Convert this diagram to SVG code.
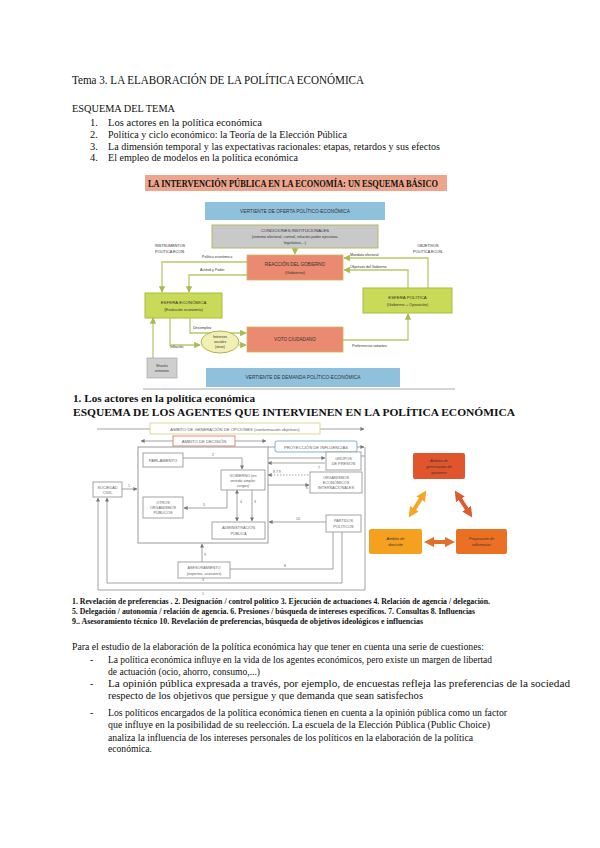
<svg xmlns="http://www.w3.org/2000/svg" width="600" height="848" viewBox="0 0 600 848">
<style>
.b{font-family:"Liberation Serif","Times New Roman",serif;fill:#111}
.bb{font-family:"Liberation Serif","Times New Roman",serif;fill:#111;font-weight:bold}
.f{font-family:"Liberation Sans",Arial,sans-serif;fill:#333}
.f2{font-family:"Liberation Sans",Arial,sans-serif;fill:#666}
.gl{fill:none;stroke:#b9c96a;stroke-width:1.3}
.kl{fill:none;stroke:#8a8a8a;stroke-width:0.8}
.kb{fill:#fff;stroke:#9a9a9a;stroke-width:0.9}
.ol{fill:none;stroke-width:4}
</style>
<defs>
<marker id="ag" viewBox="0 0 10 10" refX="9" refY="5" markerWidth="5" markerHeight="5" orient="auto-start-reverse"><path d="M0,0L10,5L0,10z" fill="#a8bb50"/></marker>
<marker id="ak" viewBox="0 0 10 10" refX="9" refY="5" markerWidth="5" markerHeight="5" orient="auto-start-reverse"><path d="M0,0L10,5L0,10z" fill="#777"/></marker>
<marker id="ay" viewBox="0 0 10 10" refX="6" refY="5" markerWidth="2.6" markerHeight="2.6" orient="auto-start-reverse"><path d="M0,0L10,5L0,10z" fill="#f5a623"/></marker>
<marker id="ar" viewBox="0 0 10 10" refX="6" refY="5" markerWidth="2.6" markerHeight="2.6" orient="auto-start-reverse"><path d="M0,0L10,5L0,10z" fill="#e05a30"/></marker>
<marker id="ao" viewBox="0 0 10 10" refX="6" refY="5" markerWidth="2.6" markerHeight="2.6" orient="auto-start-reverse"><path d="M0,0L10,5L0,10z" fill="#e2702c"/></marker>
</defs>
<rect width="600" height="848" fill="#fff"/>

<!-- Header -->
<g id="header">
<text class="b" x="72" y="84" font-size="12.5" textLength="292" lengthAdjust="spacingAndGlyphs">Tema 3. LA ELABORACIÓN DE LA POLÍTICA ECONÓMICA</text>
<text class="b" x="72" y="112" font-size="11" textLength="103" lengthAdjust="spacingAndGlyphs">ESQUEMA DEL  TEMA</text>
<text class="b" x="90" y="126" font-size="10.5">1.</text>
<text class="b" x="108" y="126" font-size="10.5" textLength="154" lengthAdjust="spacingAndGlyphs">Los actores en la política económica</text>
<text class="b" x="90" y="138" font-size="10.5">2.</text>
<text class="b" x="108" y="138" font-size="10.5" textLength="239" lengthAdjust="spacingAndGlyphs">Política y ciclo económico: la Teoría de la Elección Pública</text>
<text class="b" x="90" y="150" font-size="10.5">3.</text>
<text class="b" x="108" y="150" font-size="10.5" textLength="332" lengthAdjust="spacingAndGlyphs">La dimensión temporal y las expectativas racionales: etapas, retardos y sus efectos</text>
<text class="b" x="90" y="161" font-size="10.5">4.</text>
<text class="b" x="108" y="161" font-size="10.5" textLength="190" lengthAdjust="spacingAndGlyphs">El empleo de modelos en la política económica</text>
</g>

<!-- Figure 1 -->
<g id="fig1-title">
<rect x="145" y="175" width="302" height="16" fill="#eea58e"/>
<text class="bb" x="148" y="187" font-size="9.5" fill="#3a2a20" textLength="290" lengthAdjust="spacingAndGlyphs">LA INTERVENCIÓN PÚBLICA EN LA ECONOMÍA: UN ESQUEMA BÁSICO</text>
</g>
<g id="connectors-fig1">
<path class="gl" d="M295,248V254" marker-end="url(#ag)"/>
<path class="gl" d="M247,262H162V292" marker-end="url(#ag)"/>
<path class="gl" d="M247,275H189V292" marker-end="url(#ag)"/>
<path class="gl" d="M428,288V258H344" marker-end="url(#ag)"/>
<path class="gl" d="M408,288V270H344" marker-end="url(#ag)"/>
<path class="gl" d="M343,340H408V314" marker-end="url(#ag)"/>
<path class="gl" d="M190,318V333H246" marker-end="url(#ag)"/>
<path class="gl" d="M170,318V345H200" marker-end="url(#ag)"/>
<path class="gl" d="M239,345H246" marker-end="url(#ag)"/>
<path class="gl" d="M153,358V318" marker-end="url(#ag)"/>
<line x1="143" y1="389" x2="455" y2="389" stroke="#aaa" stroke-width="1"/>
</g>
<g id="oferta">
<rect x="205" y="202" width="180" height="18" fill="#8fc1dc"/>
<text class="f" x="295" y="213" font-size="4.8" text-anchor="middle">VERTIENTE DE OFERTA POLÍTICO-ECONÓMICA</text>
</g>
<g id="condiciones">
<rect x="212" y="225" width="166" height="23" fill="#c9c9c9" stroke="#b5b868" stroke-width="1"/>
<text class="f" x="295" y="232" font-size="4.2" text-anchor="middle">CONDICIONES INSTITUCIONALES</text>
<text class="f" x="295" y="238" font-size="3.8" text-anchor="middle">(sistema electoral, control, relación poder ejecutivo-</text>
<text class="f" x="295" y="244" font-size="3.8" text-anchor="middle">legislativo,...)</text>
</g>
<g id="instrumentos">
<text class="f" x="170" y="247" font-size="3.8" text-anchor="middle">INSTRUMENTOS</text>
<text class="f" x="170" y="253" font-size="3.8" text-anchor="middle">POLÍTICA ECON.</text>
</g>
<g id="objetivos">
<text class="f" x="428" y="247" font-size="3.8" text-anchor="middle">OBJETIVOS</text>
<text class="f" x="428" y="253" font-size="3.8" text-anchor="middle">POLÍTICA ECON.</text>
</g>
<g id="labels-fig1">
<text class="f" x="202" y="258" font-size="3.6">Política económica</text>
<text class="f" x="200" y="271" font-size="3.6">Actitud y Poder</text>
<text class="f" x="350" y="256" font-size="3.6">Mandato electoral</text>
<text class="f" x="350" y="268" font-size="3.6">Objetivos del Gobierno</text>
<text class="f" x="193" y="329" font-size="3.6">Desempleo</text>
<text class="f" x="170" y="348" font-size="3.6">Inflación</text>
<text class="f" x="352" y="347" font-size="3.6">Preferencias votantes</text>
</g>
<g id="reaccion">
<rect x="247" y="255" width="96" height="25" fill="#ea8a70" stroke="#d6b25a" stroke-width="0.8"/>
<text class="f" x="295" y="266" font-size="4.6" text-anchor="middle">REACCIÓN DEL GOBIERNO</text>
<text class="f" x="295" y="274" font-size="4.2" text-anchor="middle">(Gobierno)</text>
</g>
<g id="esfera-economica">
<rect x="145" y="293" width="77" height="25" fill="#c9da58" stroke="#a9bc3c" stroke-width="1"/>
<text class="f" x="183.5" y="304" font-size="4.4" text-anchor="middle">ESFERA ECONÓMICA</text>
<text class="f" x="183.5" y="311" font-size="4" text-anchor="middle">(Evolución economía)</text>
</g>
<g id="esfera-politica">
<rect x="363" y="288" width="89" height="25" fill="#c9da58" stroke="#a9bc3c" stroke-width="1"/>
<text class="f" x="407.5" y="299" font-size="4.4" text-anchor="middle">ESFERA POLÍTICA</text>
<text class="f" x="407.5" y="306" font-size="4" text-anchor="middle">(Gobierno + Oposición)</text>
</g>
<g id="intereses">
<ellipse cx="220" cy="342" rx="19" ry="11" fill="#f1efb4" stroke="#a9a848" stroke-width="0.9"/>
<text class="f" x="220" y="338" font-size="3.4" text-anchor="middle">Intereses</text>
<text class="f" x="220" y="343" font-size="3.4" text-anchor="middle">sociales</text>
<text class="f" x="220" y="348" font-size="3.4" text-anchor="middle">(otros)</text>
</g>
<g id="voto">
<rect x="247" y="327" width="96" height="25" fill="#ea8a70" stroke="#d6b25a" stroke-width="0.8"/>
<text class="f" x="295" y="341" font-size="4.6" text-anchor="middle">VOTO CIUDADANO</text>
</g>
<g id="shocks">
<rect x="147" y="358" width="30" height="20" fill="#cfcfcf" stroke="#9a9a9a" stroke-width="0.6"/>
<text class="f" x="162" y="367" font-size="3.6" text-anchor="middle">Shocks</text>
<text class="f" x="162" y="372" font-size="3.6" text-anchor="middle">externos</text>
</g>
<g id="demanda">
<rect x="206" y="368" width="194" height="19" fill="#8fc1dc"/>
<text class="f" x="303" y="379" font-size="4.8" text-anchor="middle">VERTIENTE DE DEMANDA POLÍTICO-ECONÓMICA</text>
</g>

<!-- Section 1 headings -->
<g id="section1">
<text class="bb" x="73" y="402" font-size="11" textLength="182" lengthAdjust="spacingAndGlyphs">1. Los actores en la política económica</text>
<text class="bb" x="73" y="416" font-size="11" textLength="442" lengthAdjust="spacingAndGlyphs">ESQUEMA DE LOS AGENTES QUE INTERVIENEN EN LA POLÍTICA ECONÓMICA</text>
</g>

<!-- Figure 2 -->
<g id="connectors-fig2">
<path class="kl" d="M97,429H364" marker-end="url(#ak)"/>
<path class="kl" d="M141,441H266" marker-start="url(#ak)" marker-end="url(#ak)"/>
<path class="kl" d="M268,447H364" marker-end="url(#ak)"/>
<path class="kl" d="M183,458H242V469" marker-end="url(#ak)"/>
<path class="kl" d="M122,489H137" marker-end="url(#ak)"/>
<path class="kl" d="M227,490V508H184" marker-end="url(#ak)"/>
<path class="kl" d="M237,490V521" marker-start="url(#ak)" marker-end="url(#ak)"/>
<path class="kl" d="M252,490V521" marker-end="url(#ak)"/>
<path class="kl" d="M268,458H325" marker-end="url(#ak)"/>
<path class="kl" d="M268,463H325" marker-start="url(#ak)"/>
<path class="kl" d="M268,475H310" stroke-dasharray="1.5,1.5" marker-start="url(#ak)"/>
<path class="kl" d="M268,485H309" marker-end="url(#ak)"/>
<path class="kl" d="M326,522H269" marker-end="url(#ak)"/>
<path class="kl" d="M202,562V544" marker-end="url(#ak)"/>
<path class="kl" d="M230,569H333V532"/>
<path class="kl" d="M342,532V583H107V498" marker-end="url(#ak)"/>
<path class="kl" d="M365,447V590H98V498" marker-end="url(#ak)"/>
<path class="kl" d="M361,456H365"/>
</g>
<g id="labels-fig2">
<text class="f2" x="212" y="456" font-size="3.5">2</text>
<text class="f2" x="128" y="487" font-size="3.5">1</text>
<text class="f2" x="203" y="506" font-size="3.5">5</text>
<text class="f2" x="240" y="503" font-size="3.5">4</text>
<text class="f2" x="254" y="503" font-size="3.5">3</text>
<text class="f2" x="318" y="469" font-size="3.5">7</text>
<text class="f2" x="273" y="473" font-size="3.5">8 7 9</text>
<text class="f2" x="306" y="489" font-size="3.5">6</text>
<text class="f2" x="296" y="520" font-size="3.5">10</text>
<text class="f2" x="204" y="556" font-size="3.5">9</text>
<text class="f2" x="284" y="567" font-size="3.5">8</text>
<text class="f2" x="202" y="581" font-size="3.5">3</text>
<text class="f2" x="202" y="595" font-size="3.5">1</text>
</g>
<g id="ambito-generacion">
<rect x="150" y="423" width="170" height="11" fill="#fff" stroke="#d8d890" stroke-width="0.9"/>
<text class="f2" x="235" y="430.5" font-size="4.2" text-anchor="middle">ÁMBITO DE GENERACIÓN DE OPCIONES (conformación objetivos)</text>
</g>
<g id="ambito-decision">
<rect x="173" y="436" width="62" height="10" fill="#fff" stroke="#d88070" stroke-width="0.9"/>
<text class="f2" x="204" y="443" font-size="4.2" text-anchor="middle">ÁMBITO DE DECISIÓN</text>
</g>
<g id="proyeccion">
<rect x="275" y="441" width="82" height="11" rx="2" fill="#fff" stroke="#6fa8c8" stroke-width="0.9"/>
<text class="f2" x="316" y="448.5" font-size="4.2" text-anchor="middle">PROYECCIÓN DE INFLUENCIAS</text>
</g>
<g id="marco-decision">
<rect x="138" y="447" width="130" height="96" fill="none" stroke="#9a9a9a" stroke-width="1"/>
</g>
<g id="parlamento">
<rect class="kb" x="143" y="453" width="40" height="14"/>
<text class="f2" x="163" y="461.5" font-size="4.2" text-anchor="middle">PARLAMENTO</text>
</g>
<g id="gobierno">
<rect class="kb" x="221" y="470" width="44" height="20"/>
<text class="f2" x="243" y="477" font-size="3.8" text-anchor="middle">GOBIERNO (en</text>
<text class="f2" x="243" y="482" font-size="3.8" text-anchor="middle">sentido amplio:</text>
<text class="f2" x="243" y="487" font-size="3.8" text-anchor="middle">cargos)</text>
</g>
<g id="sociedad-civil">
<rect class="kb" x="93" y="482" width="29" height="15"/>
<text class="f2" x="107.5" y="488.5" font-size="3.8" text-anchor="middle">SOCIEDAD</text>
<text class="f2" x="107.5" y="494" font-size="3.8" text-anchor="middle">CIVIL</text>
</g>
<g id="otros-organismos">
<rect class="kb" x="143" y="497" width="40" height="21"/>
<text class="f2" x="163" y="504" font-size="3.8" text-anchor="middle">OTROS</text>
<text class="f2" x="163" y="509" font-size="3.8" text-anchor="middle">ORGANISMOS</text>
<text class="f2" x="163" y="514" font-size="3.8" text-anchor="middle">PÚBLICOS</text>
</g>
<g id="administracion">
<rect class="kb" x="212" y="522" width="53" height="17"/>
<text class="f2" x="238.5" y="529" font-size="3.8" text-anchor="middle">ADMINISTRACIÓN</text>
<text class="f2" x="238.5" y="535" font-size="3.8" text-anchor="middle">PÚBLICA</text>
</g>
<g id="grupos-presion">
<rect class="kb" x="326" y="452" width="35" height="18"/>
<text class="f2" x="343.5" y="459.5" font-size="3.8" text-anchor="middle">GRUPOS</text>
<text class="f2" x="343.5" y="465" font-size="3.8" text-anchor="middle">DE PRESIÓN</text>
</g>
<g id="organismos-internacionales">
<rect class="kb" x="310" y="472" width="52" height="21"/>
<text class="f2" x="336" y="479" font-size="3.8" text-anchor="middle">ORGANISMOS</text>
<text class="f2" x="336" y="484" font-size="3.8" text-anchor="middle">ECONÓMICOS</text>
<text class="f2" x="336" y="489" font-size="3.8" text-anchor="middle">INTERNACIONALES</text>
</g>
<g id="partidos">
<rect class="kb" x="326" y="515" width="35" height="17"/>
<text class="f2" x="343.5" y="522" font-size="3.8" text-anchor="middle">PARTIDOS</text>
<text class="f2" x="343.5" y="528" font-size="3.8" text-anchor="middle">POLÍTICOS</text>
</g>
<g id="asesoramiento">
<rect class="kb" x="178" y="562" width="52" height="16"/>
<text class="f2" x="204" y="569" font-size="3.8" text-anchor="middle">ASESORAMIENTO</text>
<text class="f2" x="204" y="575" font-size="3.8" text-anchor="middle">(expertos, asesores)</text>
</g>

<!-- Orange triangle diagram -->
<g id="connectors-orange">
<line class="ol" x1="424" y1="494" x2="411" y2="514" stroke="#f5a623" marker-start="url(#ay)" marker-end="url(#ay)"/>
<line class="ol" x1="457" y1="494" x2="470" y2="514" stroke="#e05a30" marker-start="url(#ar)" marker-end="url(#ar)"/>
<line class="ol" x1="428" y1="542" x2="451" y2="542" stroke="#e2702c" marker-start="url(#ao)" marker-end="url(#ao)"/>
</g>
<g id="ambito-generacion-o">
<rect x="413" y="453" width="52" height="26" rx="2" fill="#e1552c"/>
<text class="f" x="439" y="462" font-size="4" fill="#fff" text-anchor="middle" font-style="italic">Ámbito de</text>
<text class="f" x="439" y="468" font-size="4" fill="#fff" text-anchor="middle" font-style="italic">generación de</text>
<text class="f" x="439" y="474" font-size="4" fill="#fff" text-anchor="middle" font-style="italic">opciones</text>
</g>
<g id="ambito-decision-o">
<rect x="369" y="529" width="53" height="25" rx="2" fill="#f5a01e"/>
<text class="f" x="395.5" y="540" font-size="4" fill="#fff" text-anchor="middle" font-style="italic">Ámbito de</text>
<text class="f" x="395.5" y="546" font-size="4" fill="#fff" text-anchor="middle" font-style="italic">decisión</text>
</g>
<g id="proyeccion-o">
<rect x="456" y="529" width="51" height="25" rx="2" fill="#ec7024"/>
<text class="f" x="481.5" y="540" font-size="4" fill="#fff" text-anchor="middle" font-style="italic">Proyección de</text>
<text class="f" x="481.5" y="546" font-size="4" fill="#fff" text-anchor="middle" font-style="italic">influencias</text>
</g>

<!-- Captions -->
<g id="captions">
<text class="bb" x="72" y="604" font-size="7.5" textLength="418" lengthAdjust="spacingAndGlyphs">1. Revelación de preferencias . 2. Designación / control político 3. Ejecución de actuaciones 4. Relación de agencia / delegación.</text>
<text class="bb" x="72" y="614" font-size="7.5" textLength="403" lengthAdjust="spacingAndGlyphs">5. Delegación / autonomía / relación de agencia. 6. Presiones / búsqueda de intereses específicos. 7. Consultas 8. Influencias</text>
<text class="bb" x="72" y="624" font-size="7.5" textLength="351" lengthAdjust="spacingAndGlyphs">9.. Asesoramiento técnico 10. Revelación de preferencias, búsqueda de objetivos ideológicos e influencias</text>
</g>

<!-- Body text -->
<g id="body">
<text class="b" x="72" y="650" font-size="10" textLength="412" lengthAdjust="spacingAndGlyphs">Para el estudio de la elaboración de la política económica hay que tener en cuenta una serie de cuestiones:</text>
<text class="b" x="90" y="663" font-size="10">-</text>
<text class="b" x="108" y="663" font-size="10" textLength="384" lengthAdjust="spacingAndGlyphs">La política económica influye en la vida de los agentes económicos, pero existe un margen de libertad</text>
<text class="b" x="108" y="675" font-size="10" textLength="152" lengthAdjust="spacingAndGlyphs">de actuación (ocio, ahorro, consumo,...)</text>
<text class="b" x="90" y="687" font-size="10">-</text>
<text class="b" x="108" y="687" font-size="10" textLength="462" lengthAdjust="spacingAndGlyphs">La opinión pública expresada a través, por ejemplo, de encuestas refleja las preferencias de la sociedad</text>
<text class="b" x="108" y="699" font-size="10" textLength="315" lengthAdjust="spacingAndGlyphs">respecto de los objetivos que persigue y que demanda que sean satisfechos</text>
<text class="b" x="90" y="716" font-size="10">-</text>
<text class="b" x="108" y="716" font-size="10" textLength="399" lengthAdjust="spacingAndGlyphs">Los políticos encargados de la política económica tienen en cuenta a la opinión pública como un factor</text>
<text class="b" x="108" y="728" font-size="10" textLength="382" lengthAdjust="spacingAndGlyphs">que influye en la posibilidad de su reelección. La escuela de la Elección Pública (Public Choice)</text>
<text class="b" x="108" y="741" font-size="10" textLength="365" lengthAdjust="spacingAndGlyphs">analiza la influencia de los intereses personales de los políticos en la elaboración de la política</text>
<text class="b" x="108" y="752" font-size="10" textLength="44" lengthAdjust="spacingAndGlyphs">económica.</text>
</g>
</svg>
